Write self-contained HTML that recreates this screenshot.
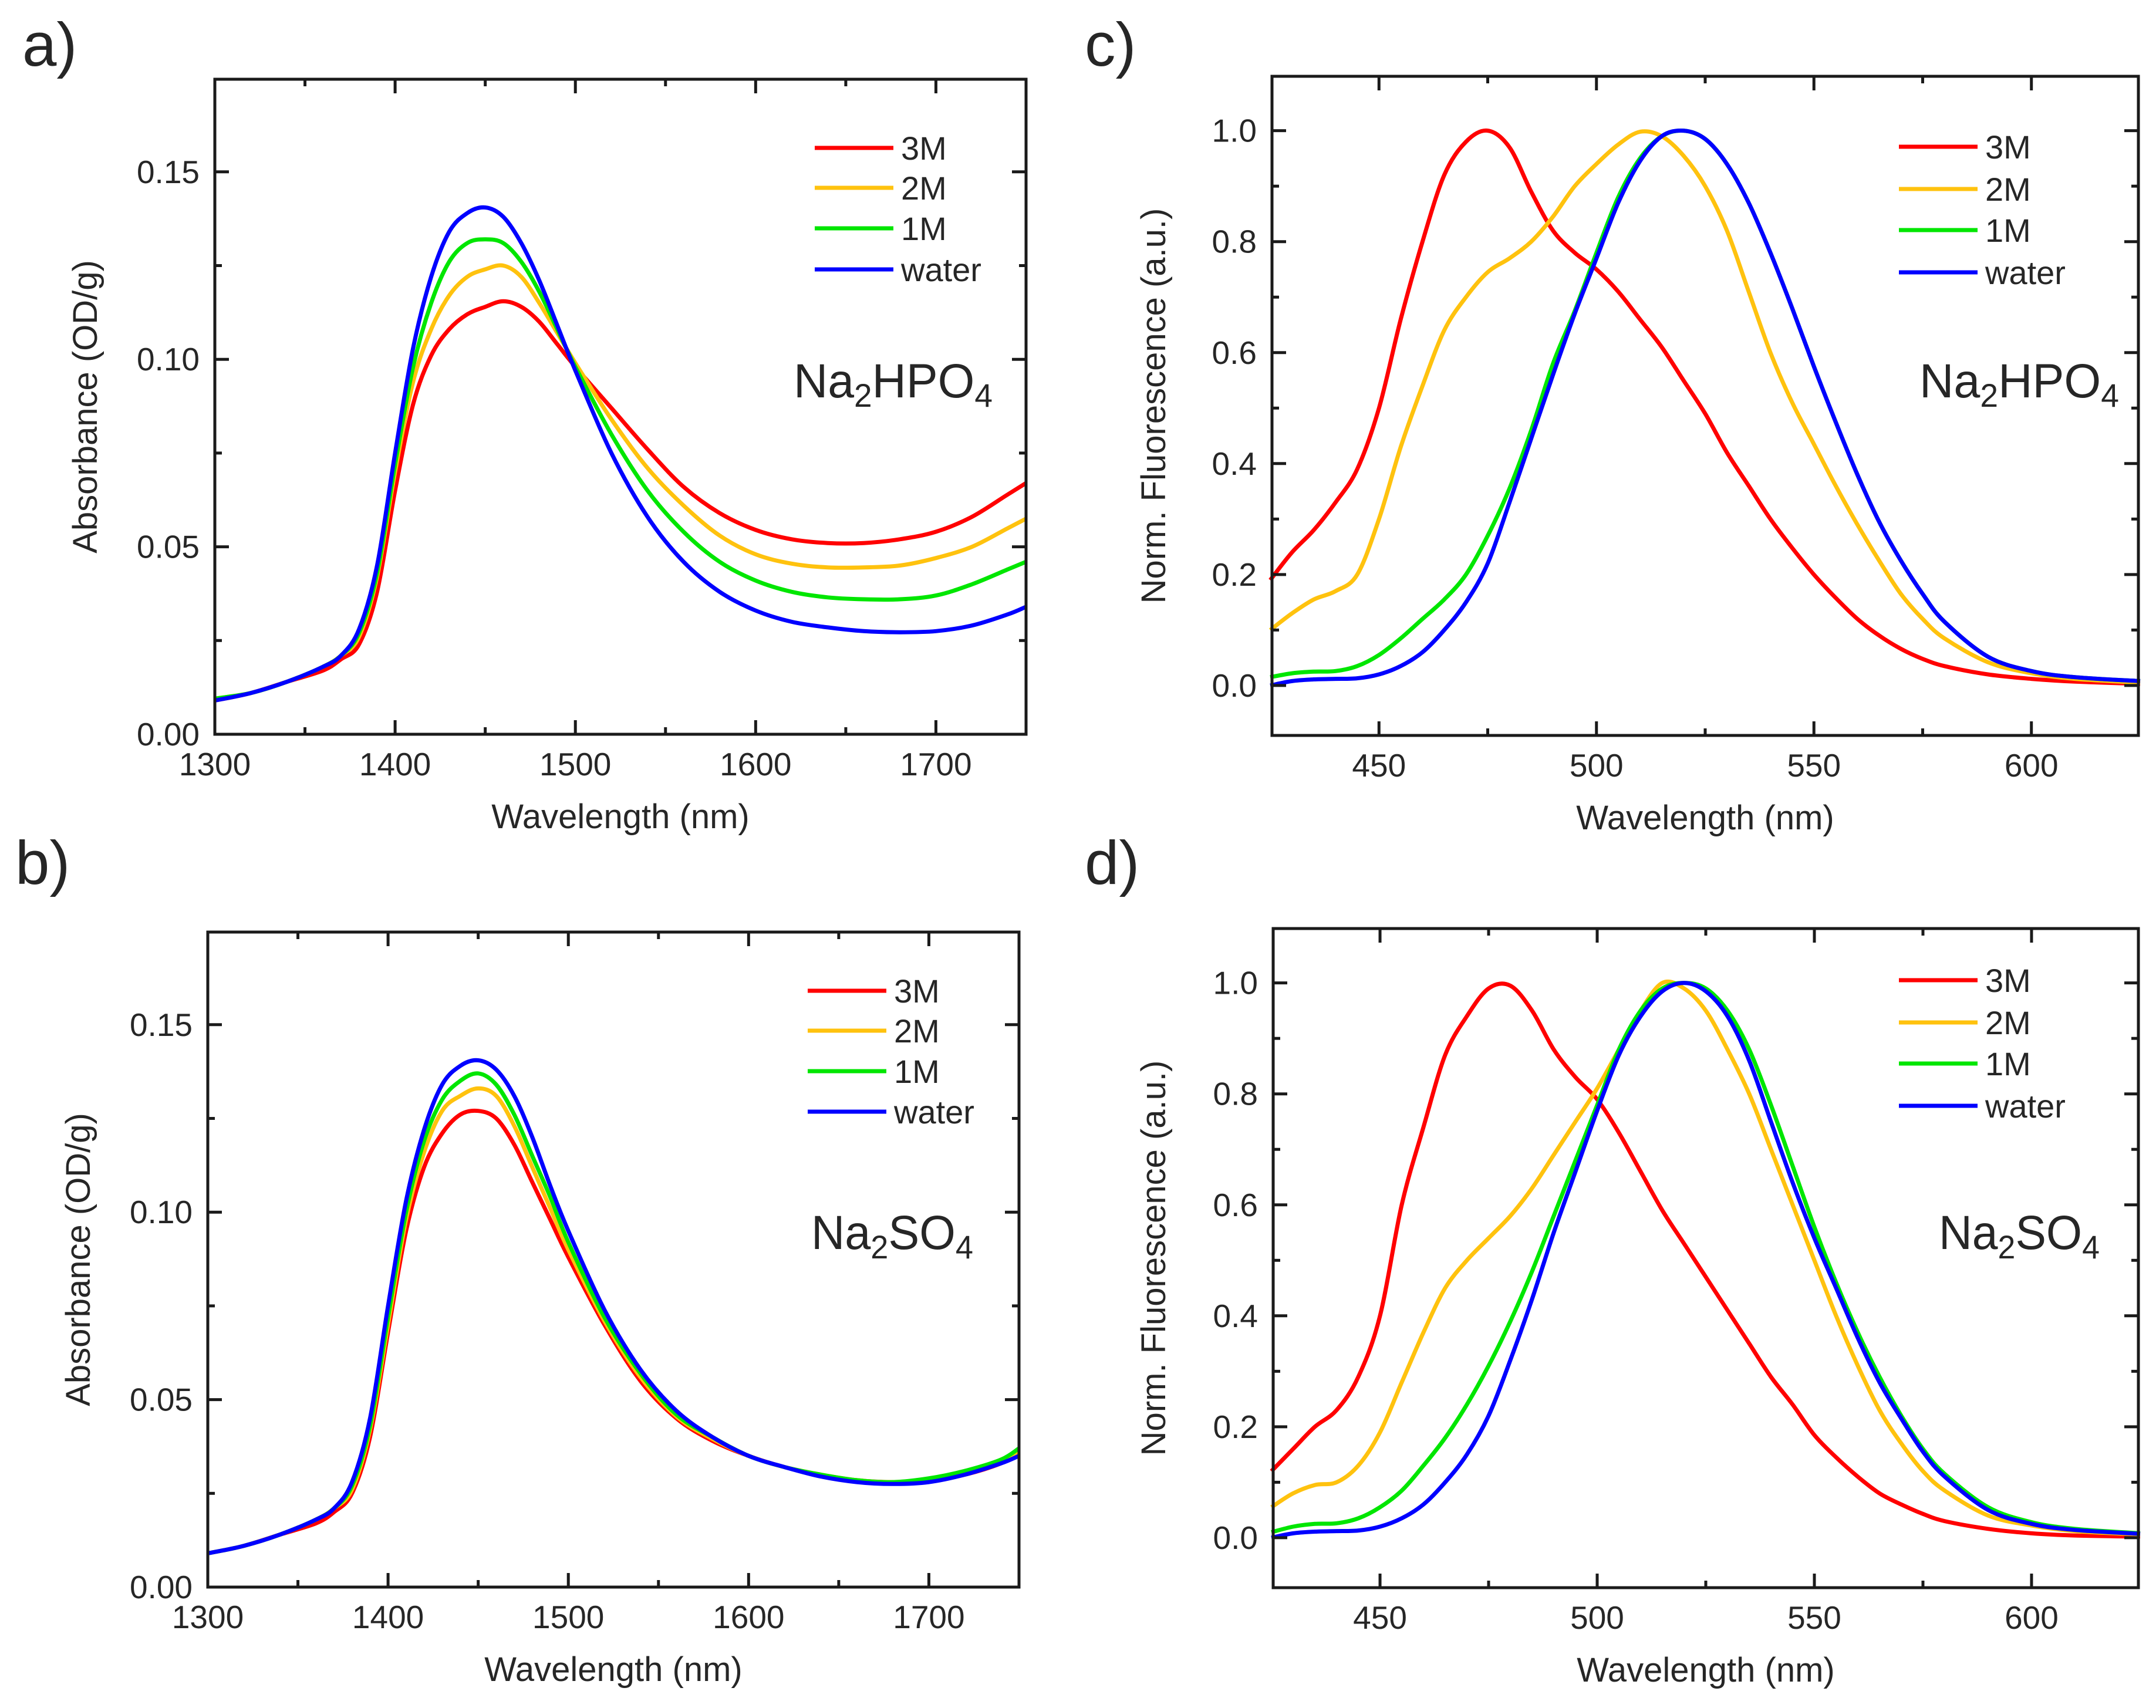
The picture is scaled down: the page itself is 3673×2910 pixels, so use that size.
<!DOCTYPE html>
<html><head><meta charset="utf-8"><style>
html,body{margin:0;padding:0;background:#fff;}
svg{display:block;}
text{font-family:"Liberation Sans",Arial,sans-serif;fill:#262626;}
</style></head><body>
<svg id="fig" width="3673" height="2910" viewBox="0 0 3673 2910" xmlns="http://www.w3.org/2000/svg"></svg>
<script>
// ---------- Panel a / b data (absorbance) ----------
const absX = [1300,1320,1340,1360,1370,1380,1390,1400,1410,1420,1430,1440,1450,1460,1470,1480,1490,1500,1520,1540,1560,1580,1600,1620,1640,1660,1680,1700,1720,1740,1750];
const aRed   = [0.009,0.011,0.014,0.017,0.020,0.024,0.038,0.065,0.088,0.101,0.108,0.112,0.114,0.1155,0.114,0.110,0.104,0.098,0.087,0.076,0.066,0.059,0.0545,0.052,0.051,0.051,0.052,0.054,0.058,0.064,0.067];
const aYellow= [0.0095,0.011,0.014,0.018,0.021,0.026,0.042,0.070,0.094,0.108,0.117,0.122,0.124,0.125,0.122,0.115,0.107,0.099,0.084,0.071,0.061,0.053,0.048,0.0455,0.0445,0.0445,0.045,0.047,0.050,0.055,0.0575];
const aGreen = [0.0095,0.011,0.014,0.018,0.021,0.027,0.043,0.072,0.098,0.115,0.126,0.131,0.132,0.131,0.126,0.118,0.108,0.098,0.080,0.065,0.054,0.046,0.041,0.038,0.0365,0.036,0.036,0.037,0.040,0.044,0.046];
const aBlue  = [0.009,0.011,0.014,0.018,0.021,0.028,0.045,0.075,0.103,0.122,0.134,0.139,0.1405,0.138,0.131,0.121,0.109,0.097,0.075,0.058,0.046,0.038,0.033,0.030,0.0285,0.0275,0.0272,0.0275,0.029,0.032,0.034];
const bRed   = [0.009,0.011,0.014,0.017,0.020,0.025,0.040,0.068,0.095,0.112,0.121,0.126,0.127,0.125,0.118,0.108,0.098,0.088,0.070,0.055,0.045,0.039,0.035,0.032,0.030,0.0285,0.028,0.0285,0.030,0.033,0.036];
const bYellow= [0.009,0.011,0.014,0.018,0.021,0.026,0.042,0.070,0.098,0.116,0.127,0.131,0.133,0.131,0.123,0.112,0.101,0.090,0.071,0.056,0.0455,0.0395,0.035,0.032,0.030,0.0285,0.028,0.0288,0.030,0.034,0.036];
const bGreen = [0.009,0.011,0.014,0.018,0.021,0.027,0.043,0.072,0.100,0.119,0.130,0.135,0.137,0.134,0.126,0.115,0.104,0.092,0.072,0.057,0.046,0.040,0.035,0.032,0.030,0.0285,0.028,0.029,0.031,0.034,0.037];
const bBlue  = [0.009,0.011,0.014,0.018,0.021,0.028,0.045,0.075,0.103,0.122,0.134,0.139,0.1405,0.138,0.131,0.120,0.107,0.095,0.074,0.058,0.047,0.040,0.035,0.032,0.0295,0.028,0.0275,0.028,0.030,0.033,0.035];
// ---------- Panel c / d data (fluorescence) ----------
const flX = [425,430,435,440,445,450,455,460,465,470,475,480,485,490,495,500,505,510,515,520,525,530,535,540,545,550,555,560,565,570,575,580,590,600,610,625];
const cRed   = [0.19,0.24,0.28,0.33,0.39,0.50,0.66,0.80,0.92,0.98,1.0,0.97,0.89,0.82,0.78,0.75,0.71,0.66,0.61,0.55,0.49,0.42,0.36,0.30,0.248,0.20,0.158,0.12,0.09,0.066,0.048,0.035,0.02,0.012,0.007,0.003];
const cYellow= [0.10,0.13,0.155,0.17,0.20,0.30,0.43,0.54,0.64,0.70,0.745,0.77,0.80,0.845,0.90,0.94,0.975,0.998,0.99,0.955,0.90,0.82,0.71,0.60,0.51,0.435,0.36,0.29,0.225,0.165,0.12,0.085,0.042,0.022,0.012,0.005];
const cGreen = [0.015,0.022,0.025,0.026,0.035,0.055,0.085,0.12,0.155,0.20,0.27,0.355,0.46,0.58,0.675,0.78,0.88,0.95,0.99,1.0,0.985,0.94,0.87,0.78,0.68,0.575,0.475,0.38,0.295,0.225,0.165,0.115,0.052,0.026,0.015,0.008];
const cBlue  = [0.0,0.008,0.011,0.012,0.013,0.02,0.035,0.06,0.10,0.15,0.22,0.33,0.445,0.56,0.67,0.77,0.87,0.945,0.99,1.0,0.985,0.94,0.87,0.78,0.68,0.575,0.475,0.38,0.295,0.225,0.165,0.115,0.052,0.026,0.015,0.008];
const dRed   = [0.12,0.16,0.20,0.23,0.29,0.40,0.60,0.74,0.87,0.94,0.99,0.995,0.95,0.88,0.83,0.79,0.73,0.66,0.59,0.53,0.47,0.41,0.35,0.29,0.24,0.185,0.145,0.11,0.08,0.06,0.043,0.03,0.016,0.008,0.004,0.002];
const dYellow= [0.055,0.08,0.095,0.10,0.13,0.19,0.28,0.37,0.45,0.50,0.54,0.58,0.63,0.69,0.75,0.81,0.88,0.95,1.0,0.99,0.95,0.88,0.80,0.70,0.60,0.50,0.40,0.31,0.23,0.17,0.12,0.085,0.04,0.022,0.012,0.006];
const dGreen = [0.01,0.02,0.025,0.026,0.035,0.055,0.085,0.13,0.18,0.24,0.31,0.39,0.48,0.58,0.68,0.78,0.88,0.95,0.99,1.0,0.99,0.95,0.88,0.78,0.67,0.56,0.46,0.37,0.29,0.22,0.16,0.115,0.055,0.028,0.016,0.008];
const dBlue  = [0.0,0.008,0.011,0.012,0.013,0.02,0.035,0.06,0.10,0.15,0.22,0.32,0.43,0.55,0.66,0.77,0.87,0.94,0.985,1.0,0.985,0.94,0.86,0.75,0.64,0.54,0.45,0.36,0.28,0.215,0.155,0.11,0.05,0.025,0.014,0.007];
// ---------- ticks / labels ----------
const absYTicks = [0,0.05,0.10,0.15];
const absYLabels = ["0.00","0.05","0.10","0.15"];
const absXTicks = [1300,1400,1500,1600,1700];
const flYTicks = [0,0.2,0.4,0.6,0.8,1.0];
const flYLabels = ["0.0","0.2","0.4","0.6","0.8","1.0"];
const flXTicks = [450,500,550,600];
const seriesNames = ["3M","2M","1M","water"];
const seriesColors = ["#ff0000","#ffc20e","#00e600","#0000ff"];

const NS="http://www.w3.org/2000/svg";
const svg=document.getElementById('fig');
function mk(tag,attrs,parent){const e=document.createElementNS(NS,tag);for(const k in attrs)e.setAttribute(k,attrs[k]);(parent||svg).appendChild(e);return e;}

function panel(cfg){
  const g=mk('g',{});
  
  
  const sx=v=>cfg.L+(v-cfg.x0)/(cfg.x1-cfg.x0)*(cfg.R-cfg.L);
  const sy=v=>cfg.B-(v-cfg.y0)/(cfg.y1-cfg.y0)*(cfg.B-cfg.T);
  cfg.series.forEach((ys,i)=>{
    const pts=cfg.xs.map((x,j)=>[sx(x),sy(ys[j])]);
    let d='M'+pts[0][0].toFixed(1)+','+pts[0][1].toFixed(1);
    for(let j=0;j<pts.length-1;j++){
      const p0=pts[Math.max(0,j-1)],p1=pts[j],p2=pts[j+1],p3=pts[Math.min(pts.length-1,j+2)];
      const c1=[p1[0]+(p2[0]-p0[0])/6,p1[1]+(p2[1]-p0[1])/6];
      const c2=[p2[0]-(p3[0]-p1[0])/6,p2[1]-(p3[1]-p1[1])/6];
      d+=' C'+c1[0].toFixed(1)+','+c1[1].toFixed(1)+' '+c2[0].toFixed(1)+','+c2[1].toFixed(1)+' '+p2[0].toFixed(1)+','+p2[1].toFixed(1);
    }
    const p=mk('path',{d:d,fill:'none',stroke:seriesColors[i],'stroke-width':7,'stroke-linejoin':'round'},g);
    
    
  });
  const fr=mk('rect',{x:cfg.L,y:cfg.T,width:cfg.R-cfg.L,height:cfg.B-cfg.T,fill:'none',stroke:'#1a1a1a','stroke-width':5},g);
  
  
  const yt=cfg.yTicks, ystep=yt[1]-yt[0];
  for(let v=cfg.y0;v<=cfg.y1+1e-9;v+=ystep/2){
    const k=Math.round(v/(ystep/2));
    if(k*(ystep/2)<cfg.y0-1e-9)continue;
    const vv=k*(ystep/2), y=sy(vv), major=(k%2===0), len=major?24:12;
    mk('line',{x1:cfg.L,x2:cfg.L+len,y1:y,y2:y,stroke:'#1a1a1a','stroke-width':5},g);
    mk('line',{x1:cfg.R,x2:cfg.R-len,y1:y,y2:y,stroke:'#1a1a1a','stroke-width':5},g);
  }
  yt.forEach((v,i)=>{
    const t=mk('text',{x:cfg.L-26,y:sy(v)+19,'font-size':55,'text-anchor':'end'},g);
    t.textContent=cfg.yLabels[i];
    
    
  });
  const xt=cfg.xTicks, xstep=xt[1]-xt[0];
  for(let k=Math.ceil(cfg.x0/(xstep/2));k*(xstep/2)<=cfg.x1;k++){
    const x=sx(k*(xstep/2)), major=(k%2===0), len=major?24:12;
    mk('line',{x1:x,x2:x,y1:cfg.B,y2:cfg.B-len,stroke:'#1a1a1a','stroke-width':5},g);
    mk('line',{x1:x,x2:x,y1:cfg.T,y2:cfg.T+len,stroke:'#1a1a1a','stroke-width':5},g);
  }
  xt.forEach(v=>{
    const t=mk('text',{x:sx(v),y:cfg.B+70,'font-size':55,'text-anchor':'middle'},g);
    t.textContent=String(v);
    
    
  });
  const xtl=mk('text',{x:(cfg.L+cfg.R)/2,y:cfg.B+160,'font-size':58,'text-anchor':'middle'},g);
  xtl.textContent='Wavelength (nm)';
  
  
  const cy=(cfg.T+cfg.B)/2;
  const ytl=mk('text',{x:cfg.yTitleX,y:cy,'font-size':58,'text-anchor':'middle',transform:'rotate(-90 '+cfg.yTitleX+' '+cy+')'},g);
  ytl.textContent=cfg.yTitle;
  
  
  cfg.legY.forEach((y,i)=>{
    const ln=mk('line',{x1:cfg.legX,x2:cfg.legX+134,y1:y,y2:y,stroke:seriesColors[i],'stroke-width':7},g);
    
    
    const t=mk('text',{x:cfg.legX+147,y:y+20,'font-size':56},g);
    t.textContent=seriesNames[i];
    
    
  });
  const s=mk('text',{x:cfg.saltX,y:cfg.saltY,'font-size':82,textLength:cfg.saltW,lengthAdjust:'spacingAndGlyphs'},g);
  
  
  cfg.salt.forEach(part=>{
    const ts=mk('tspan',part[1]?{'font-size':56,dy:16}:{'dy':part[2]||0},s);
    ts.textContent=part[0];
  });
  const pl=mk('text',{x:cfg.letterX,y:cfg.letterY,'font-size':105},g);
  pl.textContent=cfg.letter;
  
  
}

const hpo=[["Na",false],["2",true],["HPO",false,-16],["4",true]];
const so=[["Na",false],["2",true],["SO",false,-16],["4",true]];
panel({name:'panel-a',L:366,R:1748,T:135,B:1251,x0:1300,x1:1750,y0:0,y1:0.1747,xs:absX,series:[aRed,aYellow,aGreen,aBlue],
  yTicks:absYTicks,yLabels:absYLabels,xTicks:absXTicks,yTitle:'Absorbance (OD/g)',yTitleX:165,
  legX:1388,legY:[252,320,389,459],salt:hpo,saltX:1352,saltY:677,saltW:339,letter:'a)',letterX:38,letterY:112});
panel({name:'panel-b',L:354,R:1736,T:1588,B:2704,x0:1300,x1:1750,y0:0,y1:0.1747,xs:absX,series:[bRed,bYellow,bGreen,bBlue],
  yTicks:absYTicks,yLabels:absYLabels,xTicks:absXTicks,yTitle:'Absorbance (OD/g)',yTitleX:153,
  legX:1376,legY:[1688,1756,1825,1894],salt:so,saltX:1382,saltY:2128,saltW:276,letter:'b)',letterX:26,letterY:1506});
panel({name:'panel-c',L:2167,R:3643,T:130,B:1253,x0:425.4,x1:624.6,y0:-0.09,y1:1.098,xs:flX,series:[cRed,cYellow,cGreen,cBlue],
  yTicks:flYTicks,yLabels:flYLabels,xTicks:flXTicks,yTitle:'Norm. Fluorescence (a.u.)',yTitleX:1985,
  legX:3235,legY:[250,322,392,464],salt:hpo,saltX:3270,saltY:677,saltW:340,letter:'c)',letterX:1848,letterY:112});
panel({name:'panel-d',L:2169,R:3643,T:1582,B:2705,x0:425.4,x1:624.6,y0:-0.09,y1:1.098,xs:flX,series:[dRed,dYellow,dGreen,dBlue],
  yTicks:flYTicks,yLabels:flYLabels,xTicks:flXTicks,yTitle:'Norm. Fluorescence (a.u.)',yTitleX:1985,
  legX:3235,legY:[1670,1742,1812,1884],salt:so,saltX:3303,saltY:2128,saltW:274,letter:'d)',letterX:1848,letterY:1506});
</script>
</body></html>
